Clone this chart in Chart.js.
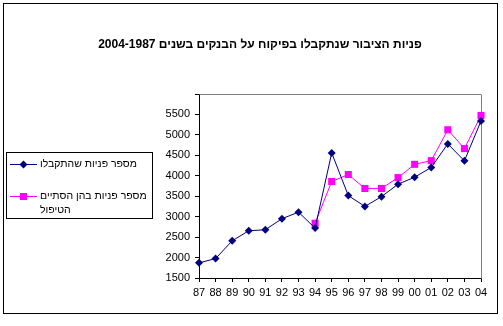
<!DOCTYPE html>
<html>
<head>
<meta charset="utf-8">
<script src="https://cdn.jsdelivr.net/npm/chart.js@4"></script>
<style>
    html, body { margin: 0; padding: 0; background: #fff; }
    #wrap { width: 503px; height: 326px; }
</style>
</head>
<body>
<div id="wrap"><canvas id="complaintsChart" width="503" height="326"></canvas></div>
<script>
// Years on the category axis
const years = ['87', '88', '89', '90', '91', '92', '93', '94', '95', '96', '97', '98', '99', '00', '01', '02', '03', '04'];

// Complaints received per year
const received = [1870, 1975, 2410, 2655, 2680, 2950, 3110, 2720, 4560, 3515, 3250, 3490, 3795, 3965, 4205, 4780, 4365, 5340];

// Complaints whose handling was completed (reported from 94)
const handled = [null, null, null, null, null, null, null, 2840, 3860, 4030, 3690, 3690, 3955, 4280, 4370, 5125, 4665, 5475];

// Value axis
const yMin = 1500;
const yMax = 6000;
const yStep = 500;

const titleText = 'פניות הציבור שנתקבלו בפיקוח על הבנקים בשנים 2004-1987';
const legendLabels = [
    ['מספר פניות שהתקבלו'],
    ['מספר פניות בהן הסתיים', 'הטיפול']
];

const navy = '#000080';
const magenta = '#FF00FF';
const fontFamily = '"Liberation Sans", Arial, sans-serif';

function drawMarker(ctx, style, x, y, color) {
    ctx.fillStyle = color;
    ctx.beginPath();
    if (style === 'rectRot') {
        ctx.moveTo(x, y - 4);
        ctx.lineTo(x + 4, y);
        ctx.lineTo(x, y + 4);
        ctx.lineTo(x - 4, y);
        ctx.closePath();
    } else {
        ctx.rect(x - 3.5, y - 3.5, 7, 7);
    }
    ctx.fill();
}

// Outer frame, plot border, title and boxed legend
const decorations = {
    id: 'decorations',
    beforeDraw(chart) {
        const ctx = chart.ctx;
        ctx.save();
        ctx.fillStyle = '#fff';
        ctx.fillRect(0, 0, chart.width, chart.height);
        ctx.strokeStyle = '#000';
        ctx.lineWidth = 1;
        ctx.strokeRect(3.5, 3.5, 494, 310);
        ctx.restore();
    },
    beforeDatasetsDraw(chart) {
        const ctx = chart.ctx;
        const a = chart.chartArea;
        ctx.save();
        ctx.strokeStyle = '#808080';
        ctx.lineWidth = 1;
        ctx.beginPath();
        ctx.moveTo(Math.round(a.left) + 0.5, Math.round(a.top) + 0.5);
        ctx.lineTo(Math.round(a.right) + 0.5, Math.round(a.top) + 0.5);
        ctx.lineTo(Math.round(a.right) + 0.5, Math.round(a.bottom) + 0.5);
        ctx.stroke();
        ctx.restore();
    },
    afterDraw(chart) {
        const ctx = chart.ctx;
        ctx.save();
        ctx.direction = 'rtl';
        ctx.fillStyle = '#000';
        ctx.font = 'bold 12px ' + fontFamily;
        ctx.textAlign = 'center';
        ctx.textBaseline = 'middle';
        ctx.fillText(titleText, 260, 45);

        // legend box
        ctx.strokeStyle = '#000';
        ctx.lineWidth = 1;
        ctx.strokeRect(6.5, 152.5, 146, 66);

        const rows = [164, 196];
        ctx.font = '10.5px ' + fontFamily;
        ctx.textAlign = 'left';
        chart.data.datasets.forEach((ds, i) => {
            const y = rows[i];
            ctx.strokeStyle = ds.borderColor;
            ctx.beginPath();
            ctx.moveTo(10, y + 0.5);
            ctx.lineTo(37, y + 0.5);
            ctx.stroke();
            drawMarker(ctx, ds.pointStyle, 23.5, y + 0.5, ds.backgroundColor);
            ctx.fillStyle = '#000';
            legendLabels[i].forEach((line, j) => {
                ctx.fillText(line, 40, y + j * 14);
            });
        });
        ctx.restore();
    }
};

const ctx = document.getElementById('complaintsChart').getContext('2d');
const complaintsChart = new Chart(ctx, {
    type: 'line',
    data: {
        labels: years,
        datasets: [
            {
                label: legendLabels[0].join(' '),
                data: received,
                borderColor: navy,
                backgroundColor: navy,
                borderWidth: 1,
                pointStyle: 'rectRot',
                pointRadius: 4,
                pointBorderWidth: 0,
                tension: 0
            },
            {
                label: legendLabels[1].join(' '),
                data: handled,
                borderColor: magenta,
                backgroundColor: magenta,
                borderWidth: 1,
                pointStyle: 'rect',
                pointRadius: 5,
                pointBorderWidth: 0,
                tension: 0
            }
        ]
    },
    options: {
        responsive: false,
        animation: false,
        devicePixelRatio: 1,
        layout: {
            padding: { left: 0, right: 22, top: 94, bottom: 0 }
        },
        plugins: {
            legend: { display: false },
            title: { display: false },
            tooltip: { enabled: false }
        },
        scales: {
            x: {
                offset: false,
                grid: { display: true, drawOnChartArea: false, drawTicks: true, tickLength: 4, color: '#000' },
                border: { color: '#000', width: 1 },
                ticks: {
                    color: '#000',
                    font: { family: fontFamily, size: 11 },
                    padding: 4,
                    maxRotation: 0,
                    autoSkip: false
                },
                afterFit(scale) { scale.height = 48; }
            },
            y: {
                min: yMin,
                max: yMax,
                grid: { display: true, drawOnChartArea: false, drawTicks: true, tickLength: 4, color: '#000' },
                border: { color: '#000', width: 1 },
                ticks: {
                    stepSize: yStep,
                    color: '#000',
                    font: { family: fontFamily, size: 11 },
                    padding: 5,
                    callback: v => v === yMax ? '' : String(v)
                },
                afterFit(scale) { scale.width = 199; }
            }
        }
    },
    plugins: [decorations]
});
</script>
</body>
</html>
